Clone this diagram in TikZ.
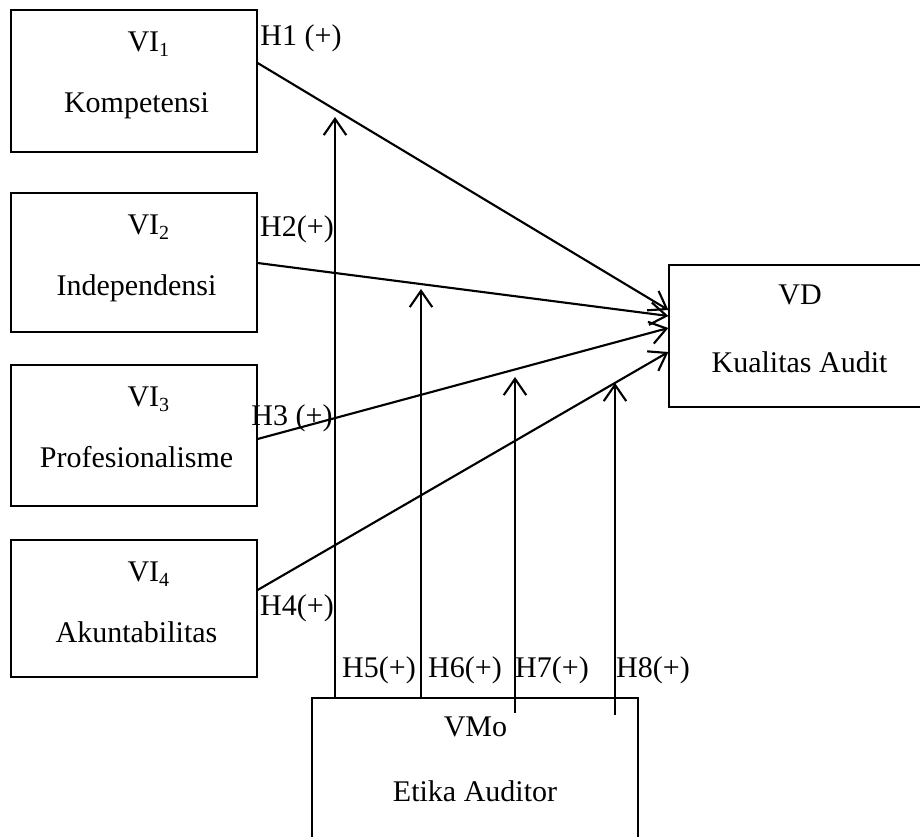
\documentclass[tikz,border=0pt]{standalone}
\usepackage{fontspec}
\setmainfont{Liberation Serif}
\usetikzlibrary{arrows.meta,positioning,calc}
\definecolor{kaInk}{HTML}{000000}
\tikzset{
  varbox/.style ={draw=kaInk,line width=0.5pt,inner sep=0pt},
  flow/.style   ={-{Straight Barb[length=6.5pt,width=9pt]},kaInk,line width=0.85pt},
  lbl/.style    ={font=\fontsize{12}{14}\selectfont,text=kaInk,inner sep=0pt,anchor=base},
  hlbl/.style   ={font=\fontsize{12}{14}\selectfont,text=kaInk,inner sep=0pt},
}

\begin{document}
\begin{tikzpicture}[x=0.4pt,y=-0.4pt]
\useasboundingbox (0,0) rectangle (920,837);
%% independent variables
\foreach \i/\yc/\yt/\bh/\name in {
  1/81/10/56.8/Kompetensi,
  2/262.5/193/55.6/Independensi,
  3/435.5/365/56.4/Profesionalisme,
  4/608.5/540/54.8/Akuntabilitas}
{
  \node[varbox,minimum width=98.4pt,minimum height=\bh pt] (vi\i) at (134,\yc) {};
  \node[lbl] at (149,\yt+42) {VI\textsubscript{\i}};
  \node[lbl] at (136.5,\yt+103) {\name};
}
%% dependent and moderating variable
\node[varbox,minimum width=104.4pt,minimum height=56.8pt] (vd) at (799.5,336) {};
\node[lbl] at (800,305) {VD};
\node[lbl] at (799.5,373) {Kualitas Audit};
\node[varbox,minimum width=130.4pt,minimum height=58.8pt] (vmo) at (475,771.5) {};
\node[lbl] at (475.5,737) {VMo};
\node[lbl] at (475,802) {Etika Auditor};
%% direct paths
\draw[flow] (vi1.east |- 0,63)  -- (vd.west |- 0,310);
\draw[flow] (vi2.east |- 0,263) -- (vd.west |- 0,316);
\draw[flow] (vi3.east |- 0,439) -- (vd.west |- 0,328);
\draw[flow] (vi4.east |- 0,590) -- (vd.west |- 0,352);
%% moderation paths
\coordinate (t5) at (335,117);
\coordinate (t6) at (421,289);
\coordinate (t7) at (515,377);
\coordinate (t8) at (615,383);
\coordinate (s7) at (515,713);
\coordinate (s8) at (615,715);
\draw[flow] (vmo.north -| t5) -- (t5);
\draw[flow] (vmo.north -| t6) -- (t6);
\draw[flow] (s7) -- (t7);
\draw[flow] (s8) -- (t8);
%% hypothesis labels
\node[hlbl] at (301,38)  {H1 (+)};
\node[hlbl] at (297,229) {H2(+)};
\node[hlbl] at (292,418) {H3 (+)};
\node[hlbl] at (297,608) {H4(+)};
\node[hlbl] at (379,670) {H5(+)};
\node[hlbl] at (465,670) {H6(+)};
\node[hlbl] at (552,670) {H7(+)};
\node[hlbl] at (653,670) {H8(+)};
\end{tikzpicture}
\end{document}
